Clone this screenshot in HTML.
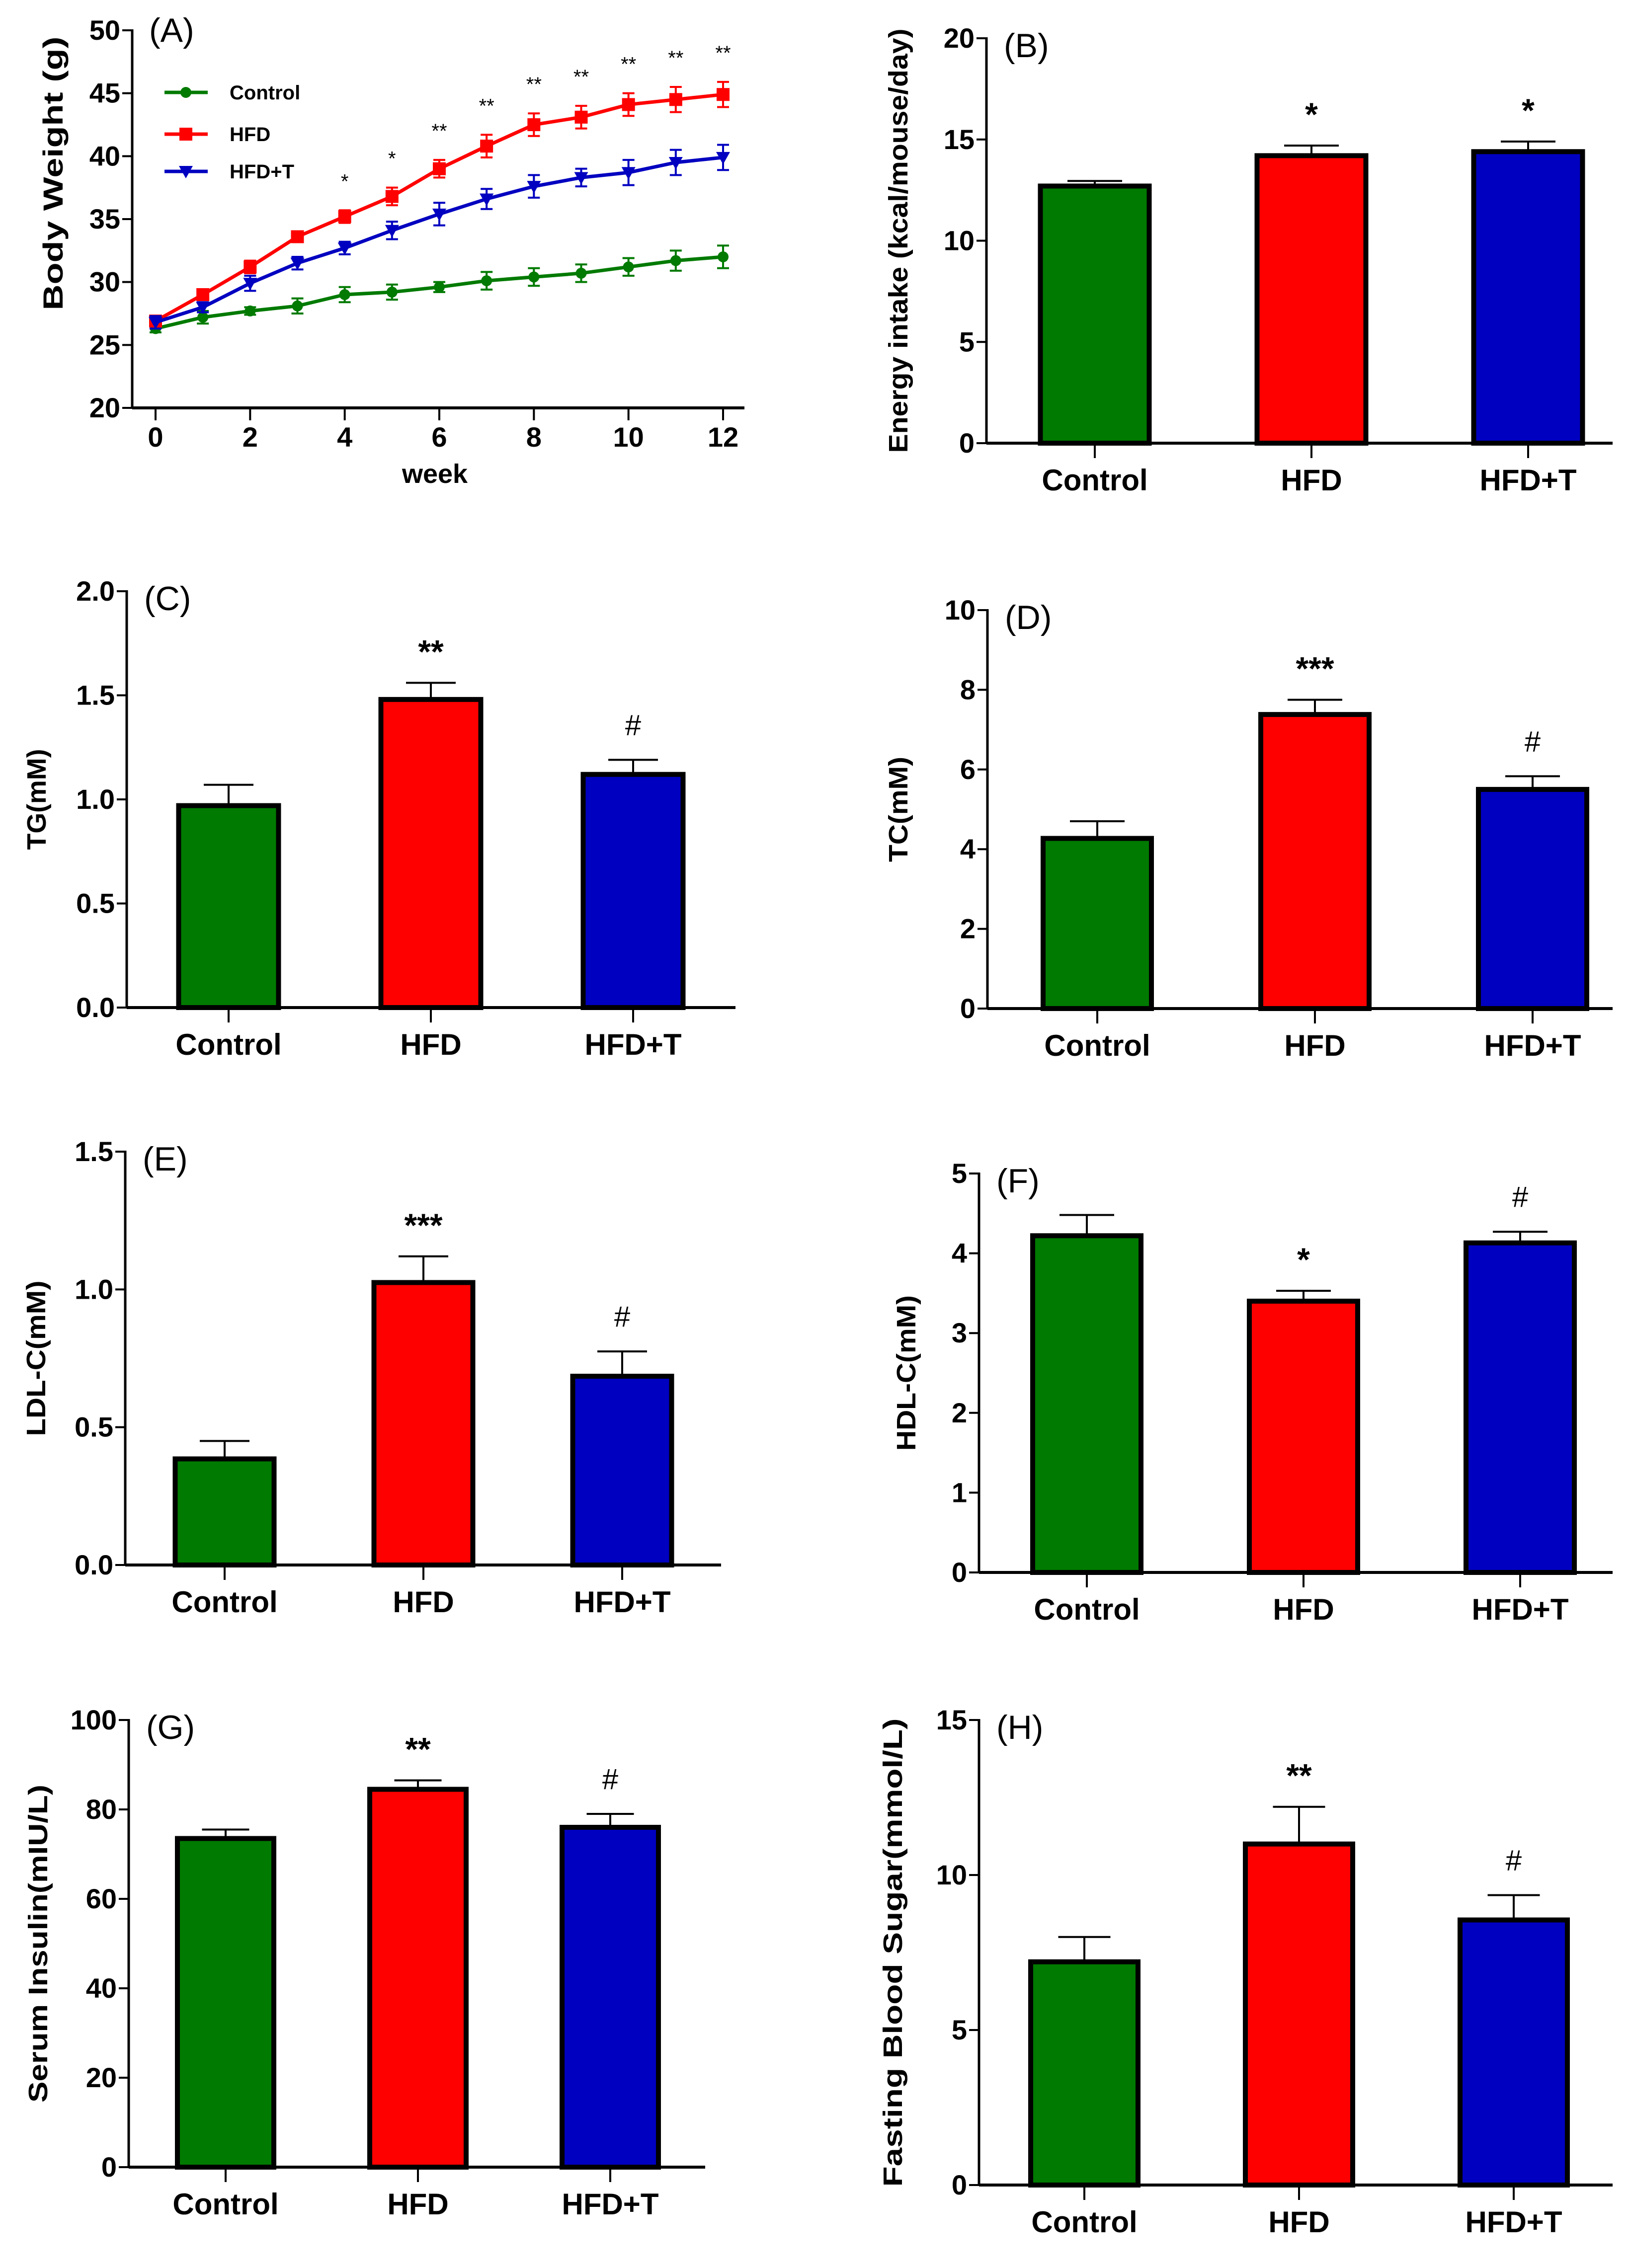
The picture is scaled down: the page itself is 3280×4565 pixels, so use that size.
<!DOCTYPE html>
<html><head><meta charset="utf-8">
<style>
html,body{margin:0;padding:0;background:#fff;}
svg{display:block;}
text{font-family:"Liberation Sans",Arial,sans-serif;}
</style></head>
<body>
<svg id="fig" xmlns="http://www.w3.org/2000/svg" width="3280" height="4565" viewBox="0 0 3280 4565"></svg>
<script>
// ---------- DATA ----------
const groups = ["Control","HFD","HFD+T"];
const weeks = [0,1,2,3,4,5,6,7,8,9,10,11,12];
const bwControl = [26.3,27.2,27.7,28.1,29.0,29.2,29.6,30.1,30.4,30.7,31.2,31.7,32.0];
const bwControlErr = [0.3,0.5,0.3,0.6,0.6,0.6,0.4,0.7,0.7,0.7,0.7,0.8,0.9];
const bwHFD = [26.9,29.0,31.2,33.6,35.2,36.8,39.0,40.8,42.5,43.1,44.1,44.5,44.9];
const bwHFDErr = [0.4,0.4,0.5,0.4,0.5,0.7,0.7,0.9,0.9,0.9,0.9,1.0,1.0];
const bwHFDT = [26.8,28.0,29.9,31.5,32.7,34.1,35.4,36.6,37.6,38.3,38.7,39.5,39.9];
const bwHFDTErr = [0.5,0.4,0.6,0.5,0.5,0.7,0.9,0.8,0.9,0.7,1.0,1.0,1.0];
const bwMarks = ["","","","","*","*","**","**","**","**","**","**","**"];
const bwTicksY = [20,25,30,35,40,45,50];
const bwTicksX = [0,2,4,6,8,10,12];

const energyVals = [12.7,14.2,14.4];
const energyErr = [0.25,0.5,0.5];
const energyMarks = ["","*","*"];
const energyTicks = [0,5,10,15,20];

const tgVals = [0.97,1.48,1.12];
const tgErr = [0.10,0.08,0.07];
const tgMarks = ["","**","#"];
const tgTicks = [0.0,0.5,1.0,1.5,2.0];

const tcVals = [4.27,7.38,5.50];
const tcErr = [0.43,0.37,0.33];
const tcMarks = ["","***","#"];
const tcTicks = [0,2,4,6,8,10];

const ldlVals = [0.385,1.025,0.685];
const ldlErr = [0.065,0.095,0.09];
const ldlMarks = ["","***","#"];
const ldlTicks = [0.0,0.5,1.0,1.5];

const hdlVals = [4.22,3.40,4.13];
const hdlErr = [0.26,0.13,0.14];
const hdlMarks = ["","*","#"];
const hdlTicks = [0,1,2,3,4,5];

const insVals = [73.5,84.5,76.0];
const insErr = [2.0,2.0,3.0];
const insMarks = ["","**","#"];
const insTicks = [0,20,40,60,80,100];

const fbsVals = [7.2,11.0,8.55];
const fbsErr = [0.8,1.2,0.8];
const fbsMarks = ["","**","#"];
const fbsTicks = [0,5,10,15];

// ---------- HELPERS ----------
const NS = "http://www.w3.org/2000/svg";
const svg = document.getElementById("fig");
const colors = ["#007a00","#ff0000","#0000c0"];
function mk(tag, attrs, parent){
  const e = document.createElementNS(NS, tag);
  for (const k in attrs) e.setAttribute(k, attrs[k]);
  (parent||svg).appendChild(e);
  return e;
}
function txt(s, x, y, size, weight, anchor, parent){
  const t = mk("text", {x:x, y:y, "font-size":size, "font-weight":weight, "text-anchor":anchor, fill:"#000"}, parent);
  t.textContent = s;
  return t;
}
function fmt(v, dec){ return dec ? v.toFixed(dec) : String(v); }

function barPanel(cfg){
  const g = mk("g", {});
  
  
  const yMax = cfg.ticks[cfg.ticks.length-1], yMin = cfg.ticks[0];
  const y = v => cfg.y0 - (v - yMin) / (yMax - yMin) * (cfg.y0 - cfg.yTop);
  const x = i => cfg.c0 + i * cfg.step;
  const ya = mk("line", {x1:cfg.ax, y1:cfg.yTop-2, x2:cfg.ax, y2:cfg.y0, stroke:"#000", "stroke-width":5}, g);
  
  
  const xa = mk("line", {x1:cfg.ax, y1:cfg.y0, x2:cfg.axEnd, y2:cfg.y0, stroke:"#000", "stroke-width":6}, g);
  
  
  cfg.ticks.forEach(t => {
    mk("line", {x1:cfg.ax-20, y1:y(t), x2:cfg.ax, y2:y(t), stroke:"#000", "stroke-width":4}, g);
    const tl = txt(fmt(t, cfg.dec), cfg.ax-24, y(t)+19, 56, "bold", "end", g);
    
    
  });
  groups.forEach((name, i) => {
    const cx = x(i);
    const top = y(cfg.vals[i]);
    const et = y(cfg.vals[i] + cfg.err[i]);
    const el = mk("line", {x1:cx, y1:top, x2:cx, y2:et, stroke:"#000", "stroke-width":4}, g);
    
    
    mk("line", {x1:cx-cfg.cap/2, y1:et, x2:cx+cfg.cap/2, y2:et, stroke:"#000", "stroke-width":4}, g);
    const r = mk("rect", {x:cx-cfg.bw/2, y:top, width:cfg.bw, height:cfg.y0-top, fill:colors[i], stroke:"#000", "stroke-width":10}, g);
    
    
    mk("line", {x1:cx, y1:cfg.y0, x2:cx, y2:cfg.y0+30, stroke:"#000", "stroke-width":4}, g);
    const cl = txt(name, cx, cfg.y0+95, 60, "bold", "middle", g);
    
    
    if (cfg.marks[i]) {
      const isHash = cfg.marks[i] === "#";
      const m = txt(cfg.marks[i], cx, et - (isHash ? 50 : 40), isHash ? 58 : 66, isHash ? "normal" : "bold", "middle", g);
      
      
    }
  });
  const pl = txt(cfg.letter, cfg.ax + 35, cfg.yTop + 38, 68, "normal", "start", g);
  
  
  const ty = (cfg.y0 + cfg.yTop) / 2;
  const yt = txt(cfg.title, cfg.titleX, ty, 54, "bold", "middle", g);
  yt.setAttribute('textLength', cfg.titleLen);
  yt.setAttribute('lengthAdjust', 'spacingAndGlyphs');
  yt.setAttribute('transform', 'rotate(-90 ' + cfg.titleX + ' ' + ty + ')');
  
  
}

// ---------- PANEL A (line chart) ----------
(function(){
  const g = mk("g", {});
  
  
  const ax = 266, axEnd = 1498, y0 = 821, yTop = 61, x0 = 313, x12 = 1455;
  const x = w => x0 + (w - 0) / 12 * (x12 - x0);
  const y = v => y0 - (v - 20) / 30 * (y0 - yTop);
  mk("line", {x1:ax, y1:yTop-2, x2:ax, y2:y0, stroke:"#000", "stroke-width":5}, g);
  mk("line", {x1:ax, y1:y0, x2:axEnd, y2:y0, stroke:"#000", "stroke-width":6}, g);
  bwTicksY.forEach(t => {
    mk("line", {x1:ax-20, y1:y(t), x2:ax, y2:y(t), stroke:"#000", "stroke-width":4}, g);
    const tl = txt(String(t), ax-24, y(t)+19, 56, "bold", "end", g);
    
    
  });
  bwTicksX.forEach(t => {
    mk("line", {x1:x(t), y1:y0, x2:x(t), y2:y0+25, stroke:"#000", "stroke-width":4}, g);
    const tl = txt(String(t), x(t), y0+78, 56, "bold", "middle", g);
    
    
  });
  const xt = txt("week", 875, 972, 54, "bold", "middle", g);
  
  
  const yt = txt("Body Weight (g)", 126, 349, 56, "bold", "middle", g);
  yt.setAttribute('textLength', 551);
  yt.setAttribute('lengthAdjust', 'spacingAndGlyphs');
  yt.setAttribute('transform', 'rotate(-90 126 349)');
  
  
  const pl = txt("(A)", 300, 84, 68, "normal", "start", g);
  
  

  const series = [
    {name:"control", vals:bwControl, err:bwControlErr, color:colors[0], m:"circle"},
    {name:"hfd", vals:bwHFD, err:bwHFDErr, color:colors[1], m:"square"},
    {name:"hfd-t", vals:bwHFDT, err:bwHFDTErr, color:colors[2], m:"tri"}
  ];
  function marker(m, cx, cy, color, parent){
    if (m === "circle") return mk("circle", {cx:cx, cy:cy, r:11, fill:color}, parent);
    if (m === "square") return mk("rect", {x:cx-13, y:cy-13, width:26, height:26, fill:color}, parent);
    return mk("polygon", {points:(cx-14)+","+(cy-11)+" "+(cx+14)+","+(cy-11)+" "+cx+","+(cy+14), fill:color}, parent);
  }
  series.forEach(s => {
    const sg = mk("g", {}, g);
    
    
    const pts = weeks.map((w, i) => x(w) + "," + y(s.vals[i])).join(" ");
    mk("polyline", {points:pts, fill:"none", stroke:s.color, "stroke-width":7}, sg);
    weeks.forEach((w, i) => {
      const cx = x(w), hi = y(s.vals[i] + s.err[i]), lo = y(s.vals[i] - s.err[i]);
      mk("line", {x1:cx, y1:hi, x2:cx, y2:lo, stroke:s.color, "stroke-width":4}, sg);
      mk("line", {x1:cx-12, y1:hi, x2:cx+12, y2:hi, stroke:s.color, "stroke-width":4}, sg);
      mk("line", {x1:cx-12, y1:lo, x2:cx+12, y2:lo, stroke:s.color, "stroke-width":4}, sg);
      const p = marker(s.m, cx, y(s.vals[i]), s.color, sg);
      
      
    });
  });
  weeks.forEach((w, i) => {
    if (!bwMarks[i]) return;
    const top = y(bwHFD[i] + bwHFDErr[i]);
    const m = txt(bwMarks[i], x(w), top - 45, 40, "normal", "middle", g);
    
    
  });
  const lg = mk("g", {}, g);
  
  
  const legY = [186, 270, 345];
  series.forEach((s, i) => {
    const e = mk("g", {}, lg);
    
    
    mk("line", {x1:331, y1:legY[i], x2:418, y2:legY[i], stroke:s.color, "stroke-width":7}, e);
    marker(s.m, 374, legY[i], s.color, e);
    txt(["Control","HFD","HFD+T"][i], 462, legY[i]+14, 40, "bold", "start", e);
  });
})();

// ---------- BAR PANELS ----------
barPanel({name:"panel-b-energy-intake", letter:"(B)", title:"Energy intake (kcal/mouse/day)", titleX:1826, titleLen:854,
  vals:energyVals, err:energyErr, marks:energyMarks, ticks:energyTicks, dec:0,
  ax:1985, axEnd:3245, y0:892, yTop:77, c0:2203, step:436, bw:219, cap:110});
barPanel({name:"panel-c-tg", letter:"(C)", title:"TG(mM)", titleX:92, titleLen:203,
  vals:tgVals, err:tgErr, marks:tgMarks, ticks:tgTicks, dec:1,
  ax:255, axEnd:1480, y0:2028, yTop:1190, c0:460, step:407, bw:201, cap:100});
barPanel({name:"panel-d-tc", letter:"(D)", title:"TC(mM)", titleX:1826, titleLen:212,
  vals:tcVals, err:tcErr, marks:tcMarks, ticks:tcTicks, dec:0,
  ax:1987, axEnd:3245, y0:2030, yTop:1228, c0:2208, step:438, bw:218, cap:110});
barPanel({name:"panel-e-ldl", letter:"(E)", title:"LDL-C(mM)", titleX:91, titleLen:313,
  vals:ldlVals, err:ldlErr, marks:ldlMarks, ticks:ldlTicks, dec:1,
  ax:252, axEnd:1451, y0:3150, yTop:2318, c0:452, step:400, bw:199, cap:100});
barPanel({name:"panel-f-hdl", letter:"(F)", title:"HDL-C(mM)", titleX:1842, titleLen:313,
  vals:hdlVals, err:hdlErr, marks:hdlMarks, ticks:hdlTicks, dec:0,
  ax:1970, axEnd:3245, y0:3165, yTop:2362, c0:2187, step:436, bw:218, cap:110});
barPanel({name:"panel-g-insulin", letter:"(G)", title:"Serum Insulin(mIU/L)", titleX:95, titleLen:640,
  vals:insVals, err:insErr, marks:insMarks, ticks:insTicks, dec:0,
  ax:259, axEnd:1419, y0:4362, yTop:3462, c0:454, step:387, bw:194, cap:95});
barPanel({name:"panel-h-blood-sugar", letter:"(H)", title:"Fasting Blood Sugar(mmol/L)", titleX:1815, titleLen:943,
  vals:fbsVals, err:fbsErr, marks:fbsMarks, ticks:fbsTicks, dec:0,
  ax:1970, axEnd:3245, y0:4398, yTop:3462, c0:2182, step:432, bw:216, cap:105});
</script>
</body></html>
